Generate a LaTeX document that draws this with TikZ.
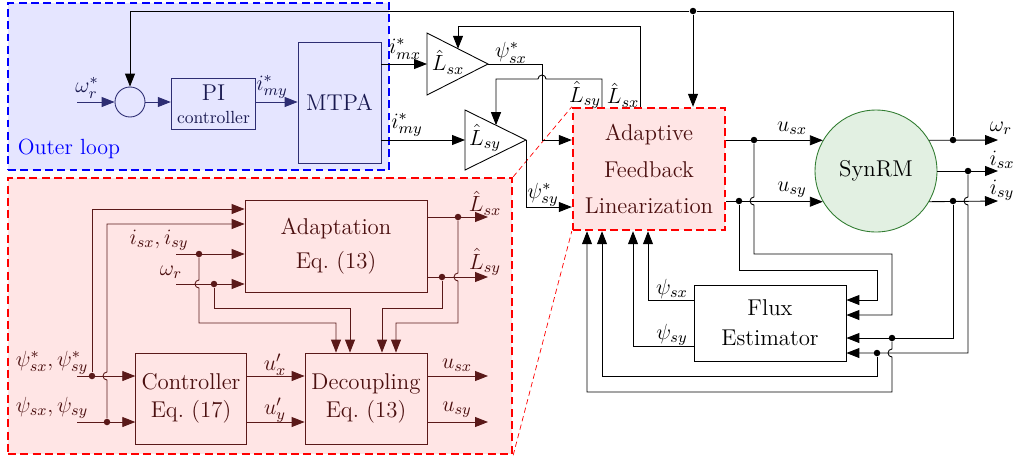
\RequirePackage{fix-cm}
\documentclass[tikz,border=0pt]{standalone}
\usepackage{tikz}
\usetikzlibrary{arrows.meta, positioning, calc}

\definecolor{loopcol}{RGB}{45,45,115}
\definecolor{looptext}{RGB}{25,25,80}
\definecolor{zoomcol}{RGB}{90,25,25}
\definecolor{zoomtext}{RGB}{75,15,15}
\definecolor{synfill}{RGB}{226,240,226}
\definecolor{synline}{RGB}{50,125,50}
\newcommand\blkfont{\fontsize{13pt}{15.6pt}\selectfont}
\newcommand\lblfont{\fontsize{12.5pt}{15pt}\selectfont}

\begin{document}
\begin{tikzpicture}[x=0.02cm, y=-0.02cm,
    blk/.style={draw, line width=0.5pt, font=\blkfont, align=center},
    lpblk/.style={blk, draw=loopcol, text=looptext},
    inblk/.style={blk, draw=zoomcol, text=zoomtext},
    conn/.style={-{Triangle[length=2.6mm, width=2mm]}, line width=0.5pt},
    wire/.style={line width=0.5pt},
    lbl/.style={font=\lblfont, inner sep=0pt},
    dot/.style={circle, fill, inner sep=0pt, minimum size=1.3mm},
    frame/.style={dash pattern=on 4.5pt off 2.5pt, line width=1.4pt}
  ]
  \useasboundingbox (0,0) rectangle (1016,457);

  % frames
  \node[frame, draw=blue, fill=blue!10, minimum width=7.62cm, minimum height=3.34cm] (outer) at (198.5,86.5) {};
  \node[frame, draw=red, fill=red!10, minimum width=10.08cm, minimum height=5.52cm] (zoom) at (260,316) {};
  \node[lbl, text=blue] (looplbl) at (69,149) {Outer loop};

  % outer loop
  \node[circle, draw=loopcol, line width=0.5pt, minimum size=0.6cm] (sum) at (130,102) {};
  \node[lpblk, minimum width=1.5cm, minimum height=1.02cm] (pi) at (213.5,104)
    {PI\\[-2.6pt]{\normalsize controller}};
  \node[lpblk, minimum width=1.66cm, minimum height=2.42cm] (mtpa) at (339.5,102.5) {MTPA};
  \coordinate (wref) at (77,102);
  \draw[conn, loopcol] (wref) -- (sum.west);
  \draw[conn, loopcol] (sum.east) -- (sum.east -| pi.west);
  \draw[conn, loopcol] (sum.east -| pi.east) -- (sum.east -| mtpa.west);
  \node[lbl, text=looptext] at (87,88) {$\omega_r^*$};
  \node[lbl, text=looptext] at (272,87) {$i_{my}^*$};

  % gains
  \coordinate (lsxb) at (427,64);
  \coordinate (lsxa) at (488,64);
  \coordinate (lsxt) at (458,48.8);
  \coordinate (lsyb) at (465,140);
  \coordinate (lsya) at (526,140);
  \coordinate (lsyt) at (496,125.2);
  \draw[wire] (427,33) -- (lsxa) -- (427,95) -- cycle;
  \draw[wire] (465,110) -- (lsya) -- (465,170) -- cycle;
  \node[lbl] (lsx) at (448,62) {$\hat L_{sx}$};
  \node[lbl] (lsy) at (485,138) {$\hat L_{sy}$};
  \draw[conn] (mtpa.east |- lsxb) -- (lsxb);
  \draw[conn] (mtpa.east |- lsyb) -- (lsyb);
  \node[lbl] at (405,49) {$i_{mx}^*$};
  \node[lbl] at (407,125) {$i_{my}^*$};

  % adaptive feedback linearization
  \node[frame, draw=red, fill=red!10, text=zoomtext, font=\blkfont, align=center,
        minimum width=3.04cm, minimum height=2.44cm] (afl) at (649,169)
    {Adaptive\\[5pt]Feedback\\[5pt]Linearization};
  \draw[red, line width=0.4pt, dash pattern=on 3pt off 2pt] (zoom.north east) -- (afl.north west);
  \draw[red, line width=0.4pt, dash pattern=on 3pt off 2pt] (zoom.south east) -- (afl.south west);

  \draw[conn] (lsxa) -| (542,140) -- (afl.west |- 0,140);
  \draw[conn] (lsya) -- (lsya |- 0,207) -- (afl.west |- 0,207);
  \node[lbl] at (511,53) {$\psi_{sx}^*$};
  \node[lbl] at (543,195) {$\psi_{sy}^*$};
  \draw[conn] (afl.north -| 602,0) -- (602,79) -- (546,79)
    arc[start angle=0, end angle=-180, radius=4] -- (lsyt |- 0,79) -- (lsyt);
  \draw[conn] (afl.north -| 640,0) -- (640,26) -- (lsxt |- 0,26) -- (lsxt);
  \node[lbl] at (585,95) {$\hat L_{sy}$};
  \node[lbl] at (623,95) {$\hat L_{sx}$};

  % machine
  \node[circle, draw=synline, fill=synfill, line width=0.5pt, minimum size=2.44cm, font=\blkfont] (syn) at (876,171) {SynRM};
  \draw[conn] (afl.east |- syn.150) -- (syn.150);
  \draw[conn] (afl.east |- syn.210) -- (syn.210);
  \node[lbl] at (792,128) {$u_{sx}$};
  \node[lbl] at (792,190) {$u_{sy}$};
  \coordinate (wout) at (998,140);
  \coordinate (isxout) at (998,171);
  \coordinate (isyout) at (998,201);
  \draw[conn] (syn.30) -- (wout);
  \draw[conn] (syn.east) -- (isxout);
  \draw[conn] (syn.-30) -- (isyout);
  \node[lbl] at (1001,128) {$\omega_r$};
  \node[lbl] at (1002,160) {$i_{sx}$};
  \node[lbl] at (1002,190) {$i_{sy}$};

  \node[dot] (usxdot) at (754,140) {};
  \node[dot] (usydot) at (739,201) {};
  \node[dot] (wdot) at (953,140) {};
  \node[dot] (isxdot) at (968,171) {};
  \node[dot] (isydot) at (953,201) {};

  % speed feedback
  \node[dot] (topdot) at (693,11) {};
  \draw[wire] (wdot) -- (wdot |- topdot) -- (topdot);
  \draw[conn] (topdot) -- (sum |- topdot) -- (sum.north);
  \draw[conn] (topdot) -- (topdot |- afl.north);

  % flux estimator
  \node[blk, minimum width=3.04cm, minimum height=1.52cm] (flux) at (770,323) {Flux\\[1.5pt]Estimator};
  \draw[conn] (usydot) |- (877,270) -- (877,300) -- (flux.east |- 0,300);
  \draw[conn] (usxdot) -- (754,197) arc[start angle=270, end angle=90, radius=4]
    -- (754,254) -- (892,254) -- (892,315) -- (flux.east |- 0,315);
  \node[dot] (isydot2) at (892,338) {};
  \node[dot] (isxdot2) at (877,353) {};
  \draw[conn] (isydot) |- (flux.east |- 0,338);
  \draw[conn] (isxdot) -- (968,197) arc[start angle=270, end angle=90, radius=4]
    -- (968,353) -- (flux.east |- 0,353);
  \draw[conn] (isydot2) -- (892,349) arc[start angle=270, end angle=90, radius=4]
    -- (892,392) -| (afl.south -| 587,0);
  \draw[conn] (isxdot2) |- (602,376) -- (afl.south -| 602,0);
  \draw[conn] (flux.west |- 0,300) -| (afl.south -| 648,0);
  \draw[conn] (flux.west |- 0,346) -| (afl.south -| 633,0);
  \node[lbl] at (672,289) {$\psi_{sx}$};
  \node[lbl] at (672,335) {$\psi_{sy}$};

  % zoomed view of the linearization
  \node[inblk, minimum width=3.64cm, minimum height=1.84cm] (adapt) at (336,246) {Adaptation\\[3.7pt]Eq.~(13)};
  \node[inblk, minimum width=2.16cm, minimum height=1.82cm] (ctrl) at (191,398.5) {Controller\\[0.5pt]Eq.~(17)};
  \node[inblk, minimum width=2.44cm, minimum height=1.82cm] (dec) at (366,398.5) {Decoupling\\[0.5pt]Eq.~(13)};

  \coordinate (psirefin) at (77,376);
  \coordinate (psiin) at (77,422);
  \coordinate (iin) at (176,254);
  \coordinate (wrin) at (176,284);
  \node[dot, zoomcol] (prdot) at (92,376) {};
  \node[dot, zoomcol] (pdot) at (107,422) {};
  \node[dot, zoomcol] (idot) at (199,254) {};
  \node[dot, zoomcol] (wrdot) at (214,284) {};
  \draw[conn, zoomcol] (psirefin) -- (ctrl.west |- psirefin);
  \draw[conn, zoomcol] (psiin) -- (ctrl.west |- psiin);
  \draw[conn, zoomcol] (prdot) |- (adapt.west |- 0,209);
  \draw[conn, zoomcol] (pdot) -- (107,380) arc[start angle=90, end angle=270, radius=4]
    -- (107,224) -- (adapt.west |- 0,224);
  \draw[conn, zoomcol] (iin) -- (adapt.west |- iin);
  \draw[conn, zoomcol] (wrin) -- (adapt.west |- wrin);
  \draw[conn, zoomcol] (idot) -- (199,280) arc[start angle=270, end angle=90, radius=4]
    -- (199,323) -| (dec.north -| 336,0);
  \draw[conn, zoomcol] (wrdot) |- (350,308) -- (dec.north -| 350,0);
  \node[lbl, text=zoomtext] at (52,363) {$\psi_{sx}^*,\psi_{sy}^*$};
  \node[lbl, text=zoomtext] at (52,408) {$\psi_{sx},\psi_{sy}$};
  \node[lbl, text=zoomtext] at (159,240) {$i_{sx},i_{sy}$};
  \node[lbl, text=zoomtext] at (171,272) {$\omega_r$};

  \coordinate (lsxout) at (488,217);
  \coordinate (lsyout) at (488,277);
  \node[dot, zoomcol] (lxdot) at (458,217) {};
  \node[dot, zoomcol] (lydot) at (442,277) {};
  \draw[conn, zoomcol] (adapt.east |- lsxout) -- (lsxout);
  \draw[conn, zoomcol] (adapt.east |- lsyout) -- (lsyout);
  \draw[conn, zoomcol] (lydot) |- (382,308) -- (dec.north -| 382,0);
  \draw[conn, zoomcol] (lxdot) -- (458,273) arc[start angle=270, end angle=90, radius=4]
    -- (458,323) -| (dec.north -| 396,0);
  \node[lbl, text=zoomtext] at (485,203) {$\hat L_{sx}$};
  \node[lbl, text=zoomtext] at (485,262) {$\hat L_{sy}$};

  \coordinate (usxo) at (488,376);
  \coordinate (usyo) at (488,422);
  \draw[conn, zoomcol] (ctrl.east |- psirefin) -- (dec.west |- psirefin);
  \draw[conn, zoomcol] (ctrl.east |- psiin) -- (dec.west |- psiin);
  \draw[conn, zoomcol] (dec.east |- usxo) -- (usxo);
  \draw[conn, zoomcol] (dec.east |- usyo) -- (usyo);
  \node[lbl, text=zoomtext] at (275,365) {$u'_x$};
  \node[lbl, text=zoomtext] at (275,410) {$u'_y$};
  \node[lbl, text=zoomtext] at (457,365) {$u_{sx}$};
  \node[lbl, text=zoomtext] at (457,410) {$u_{sy}$};
\end{tikzpicture}
\end{document}
